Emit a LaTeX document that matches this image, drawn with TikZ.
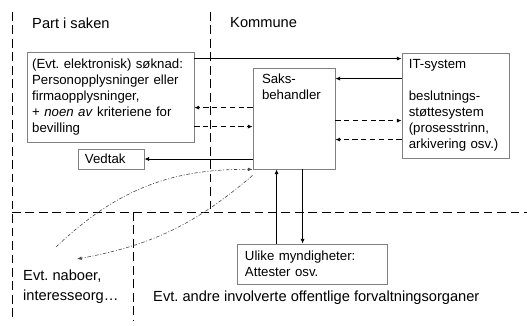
\documentclass[tikz,border=0pt]{standalone}
\usepackage{fontspec}
\setmainfont{Liberation Sans}
\usetikzlibrary{positioning, arrows.meta, calc}
\definecolor{BoxGray}{RGB}{128,128,128}
\definecolor{LinkGray}{RGB}{70,70,70}
\newcommand\boxfont{\fontsize{11.3}{13.6}\selectfont\hyphenpenalty=10000}
\newcommand\lblfont{\fontsize{12.5}{17}\selectfont}
\frenchspacing

\begin{document}
\begin{tikzpicture}[x=0.03cm, y=-0.03cm,
    box/.style={rectangle, draw=BoxGray, line width=0.7pt, inner sep=0pt,
                font=\boxfont, align=left},
    lbl/.style={inner sep=0pt, font=\lblfont, align=left},
    frame/.style={line width=0.8pt, dash pattern=on 7.5pt off 4pt},
    arr/.style={-{Latex[length=4pt, width=3.5pt]}, line width=0.7pt},
    dsh/.style={dash pattern=on 4.5pt off 3pt},
    kurve/.style={-{Latex[length=4pt, width=3pt]}, LinkGray, line width=0.5pt,
                  dash pattern=on 3pt off 1.5pt on 0.8pt off 1.5pt}
  ]
  \useasboundingbox (0,0) rectangle (527,325);

  % Areas
  \draw[frame] (12,12) -- (12,320);
  \draw[frame] (210,12) -- (210,212);
  \draw[frame] (12,212) -- (527,212);
  \draw[frame] (133,212) -- (133,320);
  \node[lbl, anchor=west] (part) at (32,23) {Part i saken};
  \node[lbl, anchor=west] (kommune) at (230,23) {Kommune};
  \node[lbl, anchor=west] (naboer) at (23,287) {Evt. naboer,\\interesseorg…};
  \node[lbl, anchor=west] (andre) at (153,298)
    {Evt. andre involverte offentlige forvaltningsorganer};

  % Boxes
  \node[box, minimum width=5.01cm, minimum height=2.7cm, text width=4.7cm]
    (soknad) at (110.5,97) {(Evt. elektronisk) søknad:\\
      Personopplysninger eller\\
      firmaopplysninger,\\
      + \textit{noen av} kriteriene for\\
      bevilling};
  \node[box, minimum width=2.46cm, minimum height=3.03cm] (saks) at (294,118.5) {};
  \node[box, inner sep=0pt, anchor=north west] (saksnavn)
    at ($(saks.north west)+(9,6)$) [draw=none] {Saks-\\behandler};
  \node[box, minimum width=3.21cm, minimum height=3.15cm, text width=2.8cm]
    (it) at (455.5,105.5) {IT-system\\[13.6pt]
      beslutnings-\\
      støttesystem\\
      (prosesstrinn,\\
      arkivering osv.)};
  \node[box, minimum width=1.98cm, minimum height=0.6cm, text width=1.56cm]
    (vedtak) at (111,159) {Vedtak};
  \node[box, minimum width=4.5cm, minimum height=1.2cm, text width=4.02cm]
    (ulike) at (312,264) {Ulike myndigheter:\\Attester osv.};

  % Connection points
  \coordinate (sok) at ($(soknad.north east)+(0,7)$);
  \coordinate (itsvar) at ($(saks.north east)+(0,11)$);
  \coordinate (itinn) at ($(saks.north east)+(0,53)$);
  \coordinate (itut) at ($(saks.north east)+(0,72)$);
  \coordinate (ut) at ($(saks.north west)+(0,40)$);
  \coordinate (inn) at ($(saks.north west)+(0,59)$);
  \coordinate (opp) at ($(ulike.north west)+(40,0)$);
  \coordinate (ned) at ($(ulike.north west)+(66,0)$);
  \coordinate (naboinn) at (56,247);
  \coordinate (nabout) at (77,259);

  % Flows
  \draw[arr] (sok) -- (it.west |- sok);
  \draw[arr] (it.west |- itsvar) -- (itsvar);
  \draw[arr, dsh] (itinn) -- (it.west |- itinn);
  \draw[arr, dsh] (it.west |- itut) -- (itut);
  \draw[arr, dsh] (ut) -- (soknad.east |- ut);
  \draw[arr, dsh] (soknad.east |- inn) -- (inn);
  \draw[arr] (saks.west |- vedtak.east) -- (vedtak.east);
  \draw[arr] (opp) -- (saks.south -| opp);
  \draw[arr] (saks.south -| ned) -- (ned);

  % Neighbours
  \draw[kurve] (naboinn) to[bend left=22] (saks.south west);
  \draw[kurve] ($(saks.south west)+(0,6)$) to[bend left=15] (nabout);
\end{tikzpicture}
\end{document}
